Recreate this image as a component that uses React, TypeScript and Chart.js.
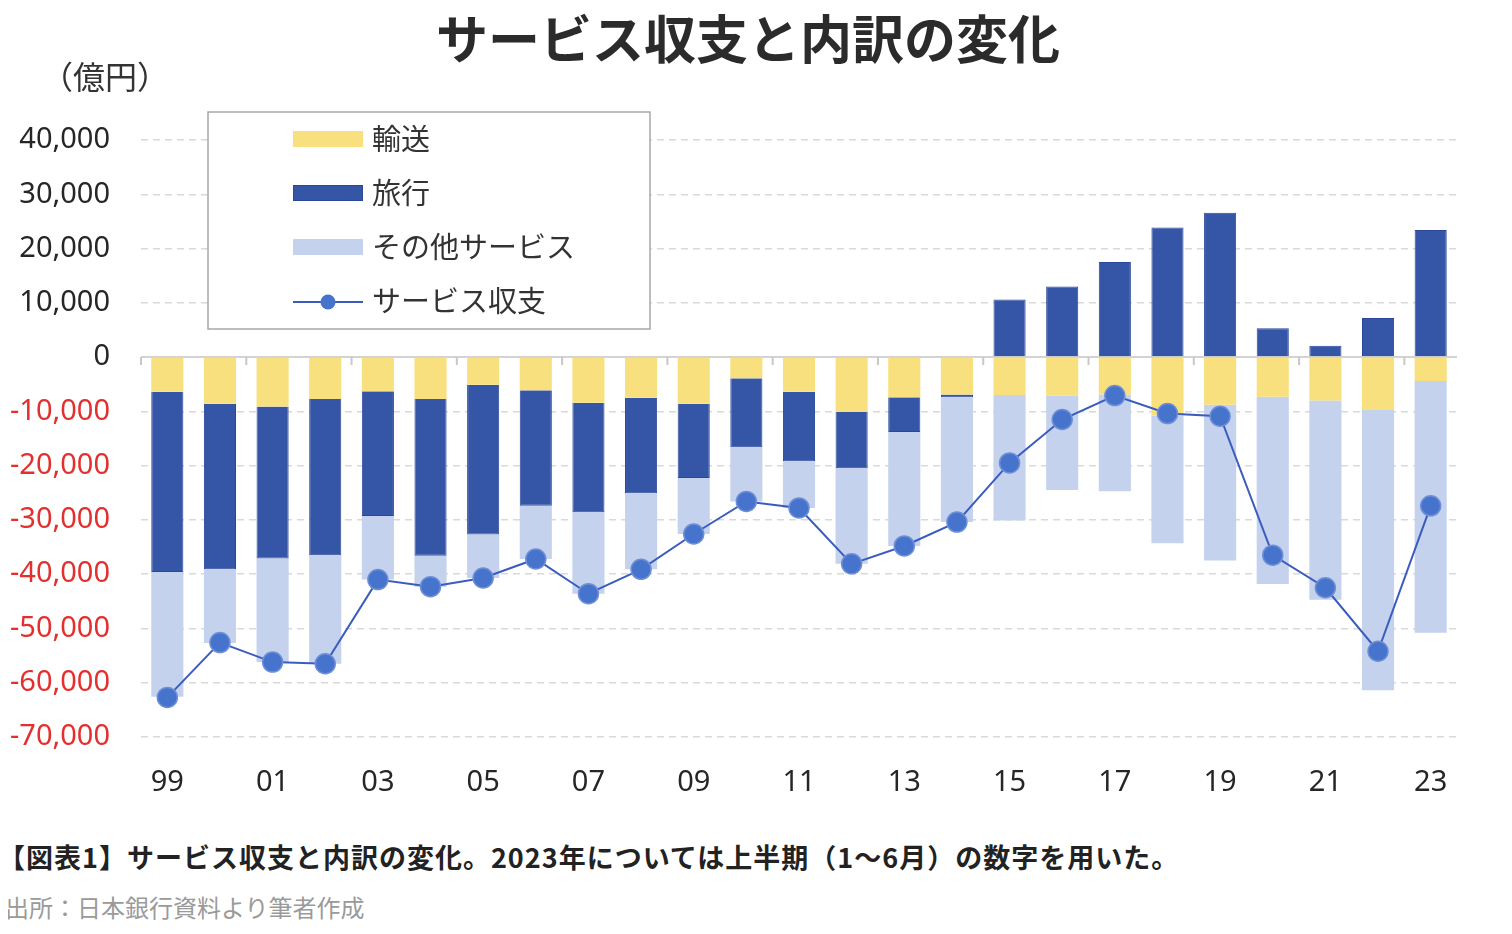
import { useEffect, useRef } from 'react';
import { Chart, registerables } from 'chart.js';

Chart.register(...registerables);

const years = ['99', '00', '01', '02', '03', '04', '05', '06', '07', '08', '09', '10', '11', '12', '13', '14', '15', '16', '17', '18', '19', '20', '21', '22', '23'];
const transport = [-6400, -8600, -9100, -7700, -6300, -7700, -5100, -6100, -8400, -7500, -8600, -3900, -6400, -10100, -7400, -6900, -7000, -7100, -6900, -10800, -8800, -7300, -8000, -9600, -4400];
const travel = [-33200, -30500, -28000, -28800, -23000, -28900, -27600, -21300, -20200, -17600, -13700, -12700, -12800, -10400, -6400, -500, 10600, 13000, 17500, 23900, 26600, 5300, 2100, 7200, 23400];
const otherServices = [-23000, -13600, -19100, -20000, -11700, -5700, -8000, -9800, -15000, -14000, -10300, -10000, -8600, -17600, -21000, -23000, -23100, -17400, -17800, -23500, -28700, -34500, -36700, -51800, -46400];
const balance = [-62700, -52600, -56200, -56500, -41000, -42300, -40700, -37200, -43600, -39100, -32600, -26600, -27800, -38100, -34800, -30400, -19500, -11500, -7100, -10400, -10900, -36500, -42500, -54200, -27400];
const seriesNames = ['輸送', '旅行', 'その他サービス', 'サービス収支'];

const TITLE = 'サービス収支と内訳の変化';
const UNIT = '（億円）';
const CAPTION = '【図表1】サービス収支と内訳の変化。2023年については上半期（1〜6月）の数字を用いた。';
const SOURCE = '出所：日本銀行資料より筆者作成';

const Y_MIN = -70000;
const Y_MAX = 40000;
const Y_STEP = 10000;

const CJK = "'Noto Sans CJK JP', 'Noto Sans', sans-serif";
const NUM = "'Noto Sans', 'DejaVu Sans', sans-serif";

const YELLOW = '#F9E07E';
const DARK = '#3556A6';
const DARK_BORDER = '#2A479A';
const LIGHT = '#C4D2ED';
const LINE = '#3A5CBF';
const POINT = '#4673CC';
const POINT_BORDER = '#6E8FD8';

const decorPlugin = {
  id: 'decor',
  beforeDatasetsDraw(chart: any) {
    const { ctx, chartArea, scales } = chart;
    const y0 = scales.y.getPixelForValue(0);
    const n = chart.data.labels.length;
    const step = (chartArea.right - chartArea.left) / n;
    ctx.save();
    ctx.strokeStyle = '#D3D3D3';
    ctx.lineWidth = 2;
    ctx.beginPath();
    ctx.moveTo(chartArea.left, y0);
    ctx.lineTo(chartArea.right, y0);
    ctx.stroke();
    ctx.strokeStyle = '#C8C8C8';
    for (let i = 0; i <= n; i += 2) {
      const x = chartArea.left + i * step;
      ctx.beginPath();
      ctx.moveTo(x, y0);
      ctx.lineTo(x, y0 + 8);
      ctx.stroke();
    }
    ctx.restore();
  },
  afterDraw(chart: any) {
    const { ctx } = chart;
    ctx.save();
    // title
    ctx.fillStyle = '#2B2B2B';
    ctx.font = `bold 52px ${CJK}`;
    ctx.textAlign = 'center';
    ctx.textBaseline = 'middle';
    ctx.fillText(TITLE, 740, 31);
    // unit
    ctx.fillStyle = '#333';
    ctx.font = `32px ${CJK}`;
    ctx.textAlign = 'left';
    ctx.fillText(UNIT, 33, 69);
    // legend
    const bx = 200, by = 104, bw = 442, bh = 217;
    ctx.fillStyle = '#FFFFFF';
    ctx.fillRect(bx, by, bw, bh);
    ctx.strokeStyle = '#A8A8A8';
    ctx.lineWidth = 1.5;
    ctx.strokeRect(bx, by, bw, bh);
    const rows = [131, 185, 239, 293];
    const ds = chart.data.datasets;
    ctx.font = `29px ${CJK}`;
    ctx.textBaseline = 'middle';
    for (let i = 0; i < ds.length; i++) {
      const cy = rows[i];
      if (ds[i].type === 'line') {
        ctx.strokeStyle = ds[i].borderColor;
        ctx.lineWidth = 2;
        ctx.beginPath();
        ctx.moveTo(285, cy + 1);
        ctx.lineTo(355, cy + 1);
        ctx.stroke();
        ctx.fillStyle = ds[i].pointBackgroundColor;
        ctx.beginPath();
        ctx.arc(320, cy + 1, 7.5, 0, Math.PI * 2);
        ctx.fill();
      } else {
        ctx.fillStyle = ds[i].backgroundColor;
        ctx.fillRect(285, cy - 8, 70, 16);
        if (ds[i].borderWidth) {
          ctx.strokeStyle = ds[i].borderColor;
          ctx.lineWidth = 1;
          ctx.strokeRect(285.5, cy - 7.5, 69, 15);
        }
      }
      ctx.fillStyle = '#333';
      ctx.fillText(ds[i].label, 364, cy);
    }
    ctx.restore();
  },
};

export default function App() {
  const canvasRef = useRef<HTMLCanvasElement | null>(null);

  useEffect(() => {
    if (!canvasRef.current) return;
    const chart = new Chart(canvasRef.current, {
      type: 'bar',
      data: {
        labels: years,
        datasets: [
          { type: 'bar', label: seriesNames[0], data: transport, backgroundColor: YELLOW, borderWidth: 0, stack: 'bars', order: 1, categoryPercentage: 1, barPercentage: 0.61 } as any,
          { type: 'bar', label: seriesNames[1], data: travel, backgroundColor: DARK, borderColor: DARK_BORDER, borderWidth: 1, stack: 'bars', order: 1, categoryPercentage: 1, barPercentage: 0.61 } as any,
          { type: 'bar', label: seriesNames[2], data: otherServices, backgroundColor: LIGHT, borderWidth: 0, stack: 'bars', order: 1, categoryPercentage: 1, barPercentage: 0.61 } as any,
          {
            type: 'line', label: seriesNames[3], data: balance, stack: 'balance', order: 0,
            borderColor: LINE, borderWidth: 2, pointRadius: 10, pointBackgroundColor: POINT,
            pointBorderColor: POINT_BORDER, pointBorderWidth: 1.5, tension: 0, fill: false,
          } as any,
        ],
      },
      options: {
        animation: false,
        responsive: true,
        maintainAspectRatio: false,
        layout: { padding: { top: 132, right: 47, left: 0, bottom: 0 } },
        plugins: { legend: { display: false }, title: { display: false }, tooltip: { enabled: false } },
        scales: {
          x: {
            stacked: true,
            offset: true,
            grid: { display: false, drawTicks: false },
            border: { display: false },
            ticks: {
              autoSkip: false,
              maxRotation: 0,
              padding: 28,
              color: '#262626',
              font: { family: NUM, size: 29 },
              callback: (_v: any, i: number) => (i % 2 === 0 ? years[i] : ''),
            },
            afterFit: (scale: any) => { scale.height = 81; },
          },
          y: {
            stacked: true,
            min: Y_MIN,
            max: Y_MAX,
            grid: {
              drawTicks: false,
              lineWidth: 1.5,
              color: (c: any) => (c.tick && c.tick.value === 0 ? 'rgba(0,0,0,0)' : '#D9D9D9'),
            },
            border: { display: false, dash: [7, 5] },
            ticks: {
              stepSize: Y_STEP,
              padding: 31,
              font: { family: NUM, size: 29 },
              color: (c: any) => (c.tick && c.tick.value < 0 ? '#E3302F' : '#262626'),
              callback: (v: any) => Number(v).toLocaleString('en-US'),
            },
            afterFit: (scale: any) => { scale.width = 133; },
          },
        },
      } as any,
      plugins: [decorPlugin],
    });
    return () => chart.destroy();
  }, []);

  return (
    <div style={{ position: 'relative', width: 1496, height: 916, fontFamily: CJK, overflow: 'hidden' }}>
      <div style={{ position: 'absolute', left: 0, top: 0, width: 1496, height: 810 }}>
        <canvas ref={canvasRef} />
      </div>
      <div style={{ position: 'absolute', left: -10, top: 833, fontSize: 27, fontWeight: 700, color: '#222', whiteSpace: 'nowrap', lineHeight: '32px', letterSpacing: '1px' }}>
        {CAPTION}
      </div>
      <div style={{ position: 'absolute', left: -3, top: 885, fontSize: 24, color: '#9A9A9A', whiteSpace: 'nowrap', lineHeight: '28px' }}>
        {SOURCE}
      </div>
    </div>
  );
}
